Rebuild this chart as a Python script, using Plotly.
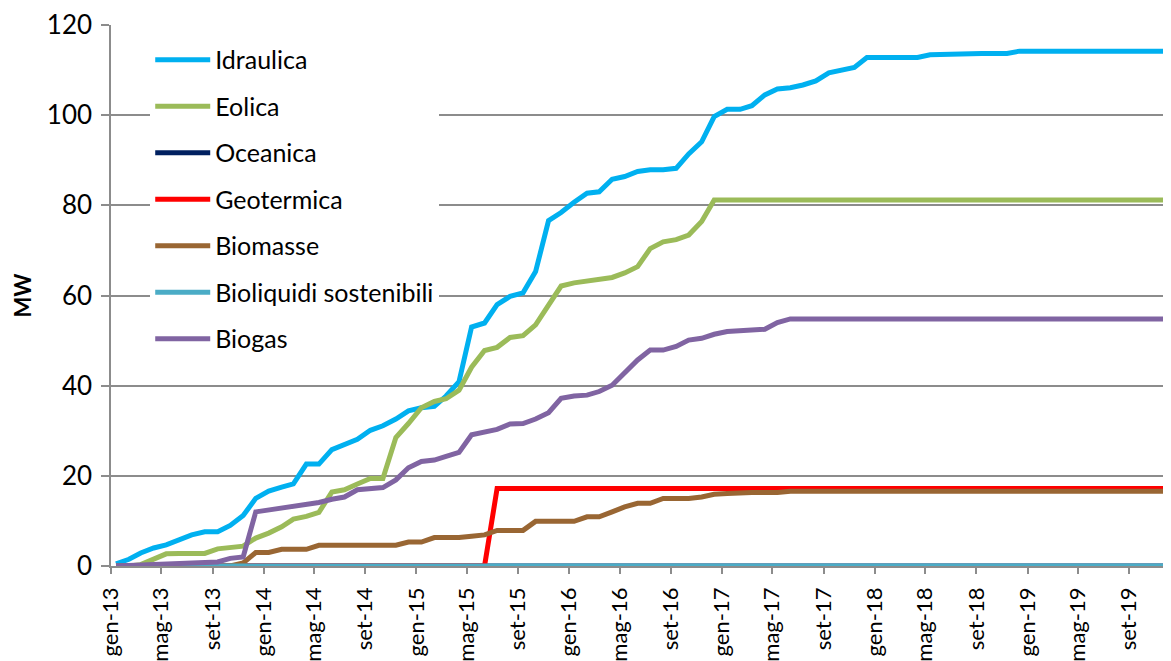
import plotly.graph_objects as go

# ---------------- data ----------------
n_months = 84  # gen-13 .. dic-19
dates = [f"{2013 + i // 12}-{i % 12 + 1:02d}-13" for i in range(n_months)]

idraulica = [0.5, 1.5, 2.9, 4.0, 4.7, 5.7, 6.9, 7.6, 7.6, 9.0, 11.2, 15.0,
             16.6, 17.5, 18.2, 22.6, 22.6, 25.8, 26.9, 28.1, 30.1, 31.1, 32.6, 34.4,
             35.1, 35.4, 37.7, 40.9, 53.0, 53.9, 58.0, 59.8, 60.6, 65.3, 76.6, 78.4,
             80.7, 82.7, 83.0, 85.8, 86.4, 87.5, 87.9, 87.9, 88.2, 91.4, 94.1, 99.7,
             101.3, 101.3, 102.1, 104.5, 105.8, 106.1, 106.7, 107.6, 109.4, 110.0, 110.6, 112.8,
             112.8, 112.8, 112.8, 112.8, 113.4, 113.5, 113.7, 113.7, 113.7, 113.7, 113.7, 114.2,
             114.2, 114.2, 114.2, 114.2, 114.2, 114.2, 114.2, 114.2, 114.2, 114.2, 114.2, 114.2]
eolica = [0.0, 0.0, 0.3, 1.5, 2.7, 2.8, 2.8, 2.8, 3.8, 4.1, 4.4, 6.2,
          7.3, 8.7, 10.4, 11.0, 11.9, 16.4, 16.9, 18.2, 19.4, 19.4, 28.5, 31.6,
          35.1, 36.5, 37.1, 39.0, 44.1, 47.8, 48.5, 50.7, 51.1, 53.5, 58.1, 62.1,
          62.8, 63.2, 63.8, 64.0, 65.0, 66.4, 70.4, 71.9, 72.4, 73.4, 76.4, 81.2,
          81.2, 81.2, 81.2, 81.2, 81.2, 81.2, 81.2, 81.2, 81.2, 81.2, 81.2, 81.2,
          81.2, 81.2, 81.2, 81.2, 81.2, 81.2, 81.2, 81.2, 81.2, 81.2, 81.2, 81.2,
          81.2, 81.2, 81.2, 81.2, 81.2, 81.2, 81.2, 81.2, 81.2, 81.2, 81.2, 81.2]
oceanica = [0.0] * n_months
geotermica = [0.0] * 30 + [17.2] * (n_months - 30)
biomasse = [0.0, 0.0, 0.0, 0.0, 0.0, 0.0, 0.0, 0.0, 0.0, 0.0, 0.7, 3.0,
            3.0, 3.7, 3.7, 3.7, 4.6, 4.6, 4.6, 4.6, 4.6, 4.6, 4.6, 5.3,
            5.3, 6.3, 6.3, 6.3, 6.6, 6.9, 7.9, 7.9, 7.9, 9.9, 9.9, 9.9,
            9.9, 10.9, 10.9, 12.0, 13.1, 13.9, 13.9, 15.0, 15.0, 15.0, 15.3, 15.9,
            16.1, 16.3, 16.3, 16.3, 16.3, 16.6, 16.6, 16.6, 16.6, 16.6, 16.6, 16.6,
            16.6, 16.6, 16.6, 16.6, 16.6, 16.6, 16.6, 16.6, 16.6, 16.6, 16.6, 16.6,
            16.6, 16.6, 16.6, 16.6, 16.6, 16.6, 16.6, 16.6, 16.6, 16.6, 16.6, 16.6]
bioliquidi = [0.0] * n_months
biogas = [0.0, 0.1, 0.3, 0.5, 0.5, 0.6, 0.8, 0.9, 0.9, 1.7, 2.0, 12.0,
          12.4, 12.9, 13.3, 13.6, 14.1, 14.8, 15.3, 16.9, 17.1, 17.4, 19.1, 21.8,
          23.2, 23.5, 24.3, 25.2, 29.1, 29.8, 30.3, 31.5, 31.6, 32.6, 34.0, 37.2,
          37.7, 37.9, 38.7, 40.1, 42.7, 45.7, 47.9, 47.9, 48.7, 50.1, 50.5, 51.4,
          52.0, 52.2, 52.3, 52.5, 54.0, 54.8, 54.8, 54.8, 54.8, 54.8, 54.8, 54.8,
          54.8, 54.8, 54.8, 54.8, 54.8, 54.8, 54.8, 54.8, 54.8, 54.8, 54.8, 54.8,
          54.8, 54.8, 54.8, 54.8, 54.8, 54.8, 54.8, 54.8, 54.8, 54.8, 54.8, 54.8]

series_names = ["Idraulica", "Eolica", "Oceanica", "Geotermica", "Biomasse",
                "Bioliquidi sostenibili", "Biogas"]
series_values = [idraulica, eolica, oceanica, geotermica, biomasse, bioliquidi, biogas]
series_colors = ["#00B0F0", "#9BBB59", "#002060", "#FF0000", "#996633",
                 "#4BACC6", "#8064A2"]

tick_dates = [f"{y}-{m:02d}-01" for y in range(2013, 2020) for m in (1, 5, 9)]
tick_labels = [f"{mn}-{str(y)[2:]}" for y in range(2013, 2020) for mn in ("gen", "mag", "set")]

y_title = "MW"

# ---------------- figure ----------------
FONT = "Lato"
fig = go.Figure()
for name, vals, col in zip(series_names, series_values, series_colors):
    fig.add_trace(go.Scatter(
        x=dates, y=vals, name=name, mode="lines",
        line=dict(color=col, width=5),
        legendgroup=name,
    ))

grid_col = "#8C8C8C"
fig.update_layout(
    width=1163, height=653,
    margin=dict(l=103, r=0, t=17, b=95, autoexpand=False),
    paper_bgcolor="white", plot_bgcolor="white",
    font=dict(family=FONT, size=22, color="black"),
    showlegend=True,
    legend=dict(
        x=0.037, y=0.978, xanchor="left", yanchor="top",
        bgcolor="white", borderwidth=0,
        font=dict(family=FONT, size=25, color="black"),
        itemwidth=55, tracegroupgap=11,
        traceorder="grouped",
    ),
    xaxis=dict(
        type="date", range=["2013-01-01", "2019-12-10"],
        tickvals=tick_dates, ticktext=tick_labels, tickangle=-90,
        ticks="outside", ticklen=6, tickcolor=grid_col, tickwidth=1.5,
        showline=True, linecolor=grid_col, linewidth=1.5,
        showgrid=False, zeroline=False, automargin=False,
        tickfont=dict(family=FONT, size=22),
        ticklabelstandoff=5,
    ),
    yaxis=dict(
        range=[0, 120], dtick=20, tick0=0,
        showgrid=True, gridcolor=grid_col, gridwidth=1.5,
        ticks="outside", ticklen=8, tickcolor=grid_col, tickwidth=1.5,
        showline=True, linecolor=grid_col, linewidth=1.5,
        zeroline=False, automargin=False,
        tickfont=dict(family=FONT, size=26),
        ticklabelstandoff=4,
    ),
    annotations=[dict(
        text=f"<b>{y_title}</b>", textangle=-90,
        xref="paper", yref="paper", x=0, y=0.5,
        xanchor="center", yanchor="middle", xshift=-(111 - 22),
        showarrow=False, font=dict(family=FONT, size=22, color="black"),
    )],
)

fig.write_html("out.html")
